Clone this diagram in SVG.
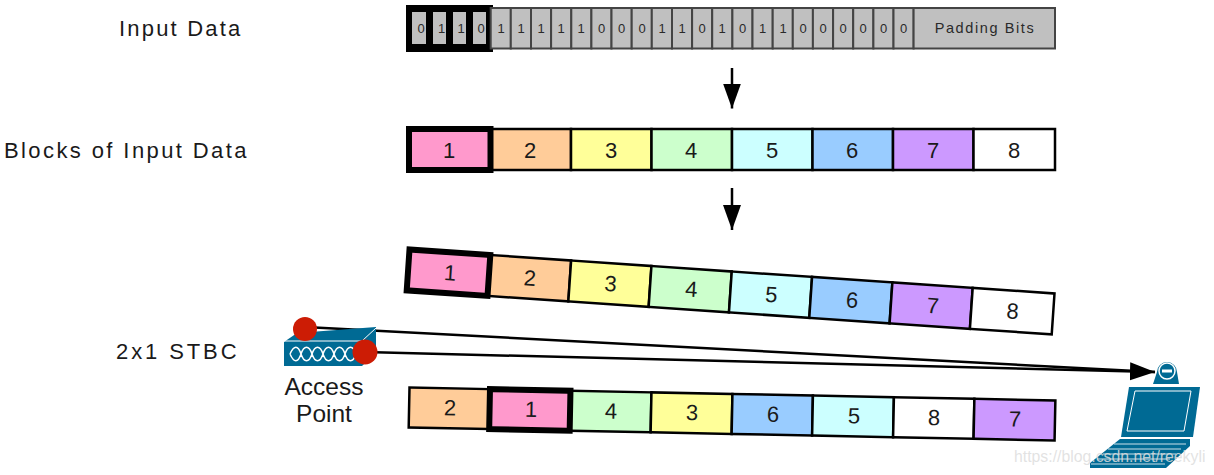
<svg xmlns="http://www.w3.org/2000/svg" width="1214" height="475" viewBox="0 0 1214 475">
<style>
text{font-family:"Liberation Sans",Arial,sans-serif;fill:#1a1a1a}
.lbl{font-size:22px}
.ap{font-size:24.5px;text-anchor:middle}
.n{font-size:22px;text-anchor:middle}
.b{font-size:13px;text-anchor:middle;fill:#2a2a2a}
.bit{fill:#c0c0c0;stroke:#444;stroke-width:2}
.c{stroke:#000;stroke-width:2.5}
.k{fill:none;stroke:#000;stroke-width:6}
.p1{fill:#ff99cc}.p2{fill:#ffcc99}.p3{fill:#ffff99}.p4{fill:#ccffcc}.p5{fill:#ccffff}.p6{fill:#99ccff}.p7{fill:#cc99ff}.p8{fill:#fff}
.dev{fill:#006a94}
.w{fill:none;stroke:#fff}
.conn{fill:none;stroke:#000;stroke-width:2.5}
</style>
<defs>
<marker id="ah" markerUnits="userSpaceOnUse" markerWidth="26" markerHeight="26" refX="25" refY="13" orient="auto"><path d="M0,4 L25,13 L0,22Z" fill="#000"/></marker>
</defs>
<g id="label-input"><text class="lbl" x="119" y="36" style="letter-spacing:2.2px">Input Data</text></g>
<g id="label-blocks"><text class="lbl" x="4" y="158" style="letter-spacing:2.4px">Blocks of Input Data</text></g>
<g id="label-stbc"><text class="lbl" x="116" y="359" style="letter-spacing:2.9px">2x1 STBC</text></g>
<g id="input-data">
<rect x="406" y="5" width="87" height="47" fill="#000"/>
<rect x="412" y="12" width="14" height="32" fill="#c0c0c0"/><rect x="433" y="12" width="13" height="32" fill="#c0c0c0"/><rect x="453" y="12" width="13" height="32" fill="#c0c0c0"/><rect x="473" y="12" width="13" height="32" fill="#c0c0c0"/>
<text class="b" x="421" y="33">0</text><text class="b" x="441.5" y="33">1</text><text class="b" x="461" y="33">1</text><text class="b" x="481" y="33">0</text>
<rect class="bit" x="490.7" y="8" width="20.1" height="40.5"/><rect class="bit" x="510.8" y="8" width="20.2" height="40.5"/><rect class="bit" x="531" y="8" width="20.1" height="40.5"/><rect class="bit" x="551.1" y="8" width="20.2" height="40.5"/><rect class="bit" x="571.3" y="8" width="20.1" height="40.5"/><rect class="bit" x="591.4" y="8" width="20.1" height="40.5"/><rect class="bit" x="611.5" y="8" width="20.2" height="40.5"/><rect class="bit" x="631.7" y="8" width="20.1" height="40.5"/><rect class="bit" x="651.8" y="8" width="20.2" height="40.5"/><rect class="bit" x="672" y="8" width="20.1" height="40.5"/><rect class="bit" x="692.1" y="8" width="20.1" height="40.5"/><rect class="bit" x="712.2" y="8" width="20.2" height="40.5"/><rect class="bit" x="732.4" y="8" width="20.1" height="40.5"/><rect class="bit" x="752.5" y="8" width="20.2" height="40.5"/><rect class="bit" x="772.7" y="8" width="20.1" height="40.5"/><rect class="bit" x="792.8" y="8" width="20.1" height="40.5"/><rect class="bit" x="812.9" y="8" width="20.2" height="40.5"/><rect class="bit" x="833.1" y="8" width="20.1" height="40.5"/><rect class="bit" x="853.2" y="8" width="20.2" height="40.5"/><rect class="bit" x="873.4" y="8" width="20.1" height="40.5"/><rect class="bit" x="893.5" y="8" width="20.1" height="40.5"/><rect class="bit" x="913.6" y="8" width="141.4" height="40.5"/>
<text class="b" x="501" y="33">1</text><text class="b" x="521" y="33">1</text><text class="b" x="541" y="33">1</text><text class="b" x="561" y="33">1</text><text class="b" x="581" y="33">1</text><text class="b" x="601.5" y="33">0</text><text class="b" x="621.5" y="33">0</text><text class="b" x="642" y="33">0</text><text class="b" x="662" y="33">1</text><text class="b" x="682" y="33">1</text><text class="b" x="702" y="33">0</text><text class="b" x="722" y="33">1</text><text class="b" x="742.5" y="33">0</text><text class="b" x="762.5" y="33">1</text><text class="b" x="783" y="33">1</text><text class="b" x="803" y="33">0</text><text class="b" x="823" y="33">0</text><text class="b" x="843" y="33">0</text><text class="b" x="863" y="33">0</text><text class="b" x="883.5" y="33">0</text><text class="b" x="903.5" y="33">0</text>
<text class="b" x="985" y="33" style="font-size:14.5px;letter-spacing:1.6px">Padding Bits</text>
</g>
<g id="blocks">
<rect class="c p2" x="490" y="129" width="81" height="41"/><rect class="c p3" x="571" y="129" width="80.5" height="41"/><rect class="c p4" x="651.5" y="129" width="80.5" height="41"/><rect class="c p5" x="732" y="129" width="80.5" height="41"/><rect class="c p6" x="812.5" y="129" width="80.5" height="41"/><rect class="c p7" x="893" y="129" width="80.5" height="41"/><rect class="c p8" x="973.5" y="129" width="81.5" height="41"/>
<rect class="p1" x="409" y="129" width="81" height="41"/><rect class="k" x="409" y="129" width="81.5" height="41"/>
<text class="n" x="449" y="158">1</text><text class="n" x="530" y="158">2</text><text class="n" x="611" y="158">3</text><text class="n" x="691" y="158">4</text><text class="n" x="772" y="158">5</text><text class="n" x="852" y="158">6</text><text class="n" x="933" y="158">7</text><text class="n" x="1014" y="158">8</text>
</g>
<g id="blocks-tilted" transform="translate(409.5,249.5) rotate(3.9)">
<rect class="c p2" x="81" y="0" width="81" height="41"/><rect class="c p3" x="162" y="0" width="80.5" height="41"/><rect class="c p4" x="242.5" y="0" width="80.5" height="41"/><rect class="c p5" x="323" y="0" width="80.5" height="41"/><rect class="c p6" x="403.5" y="0" width="80.5" height="41"/><rect class="c p7" x="484" y="0" width="80.5" height="41"/><rect class="c p8" x="564.5" y="0" width="82" height="41"/>
<rect class="p1" x="0" y="0" width="81" height="41"/><rect class="k" x="0" y="0" width="81" height="41"/>
<text class="n" x="42" y="28">1</text><text class="n" x="122" y="28">2</text><text class="n" x="203" y="28">3</text><text class="n" x="284" y="28">4</text><text class="n" x="364" y="28">5</text><text class="n" x="445" y="28">6</text><text class="n" x="526" y="28">7</text><text class="n" x="606" y="28">8</text>
</g>
<g id="blocks-stbc" transform="translate(409.5,387.5) rotate(1.15)">
<rect class="c p2" x="0" y="0" width="80" height="40"/><rect class="c p4" x="161" y="0" width="81" height="40"/><rect class="c p3" x="242" y="0" width="81" height="40"/><rect class="c p6" x="323" y="0" width="80.5" height="40"/><rect class="c p5" x="403.5" y="0" width="81" height="40"/><rect class="c p8" x="484.5" y="0" width="80.5" height="40"/><rect class="c p7" x="565" y="0" width="81" height="40"/>
<rect class="p1" x="80" y="0" width="81" height="40"/><rect class="k" x="80.5" y="0" width="80.5" height="40"/>
<text class="n" x="41" y="27">2</text><text class="n" x="122" y="27">1</text><text class="n" x="202" y="27">4</text><text class="n" x="283" y="27">3</text><text class="n" x="364" y="27">6</text><text class="n" x="445" y="27">5</text><text class="n" x="525" y="27">8</text><text class="n" x="606" y="27">7</text>
</g>
<g id="connectors">
<path class="conn" d="M732,68V108.5" marker-end="url(#ah)"/>
<path class="conn" d="M732,188V230" marker-end="url(#ah)"/>
<path class="conn" d="M305,327L1155,372"/>
<path class="conn" d="M365,352L1155,372" marker-end="url(#ah)"/>
</g>
<g id="access-point">
<path class="dev" d="M284,342L297,333L376,327V353L362,366H284Z"/>
<path class="w" stroke-width="1" d="M284,341H362L376,328"/>
<path class="w" stroke-width="1.5" d="M290,354c4,-9 8,-9 11,0s8,9 11,0s8,-9 11,0s8,9 11,0s8,-9 11,0s8,9 11,0M290,354c4,9 8,9 11,0s8,-9 11,0s8,9 11,0s8,-9 11,0s8,9 11,0s8,-9 11,0"/>
<circle cx="305" cy="329" r="12" fill="#cc1c05"/>
<circle cx="365" cy="352" r="12.5" fill="#cc1c05"/>
<text class="ap" x="324" y="395">Access</text>
<text class="ap" x="324" y="422">Point</text>
</g>
<g id="client">
<path class="dev" d="M1153,384L1157,372A10,10 0 0 1 1177,372L1179,384Z"/>
<circle cx="1167" cy="371" r="8" class="w" stroke-width="1.5"/>
<rect x="1162" y="369.5" width="10" height="3" fill="#fff"/>
<path class="dev" d="M1129,387H1200L1193,437H1121Z"/>
<path class="w" stroke-width="1" d="M1135,391H1191L1184,431H1127Z"/>
<path class="dev" d="M1120,439H1190V446L1166,468H1090V463Z"/>
<path class="w" stroke-width=".8" d="M1114,444H1186M1108,449H1181M1103,454H1176M1097,459H1170M1091,464H1165"/>
</g>
<g id="watermark"><text x="1014" y="462" style="font-size:15.8px;fill:#ddd;fill-opacity:.85">https://blog.csdn.net/reekyli</text></g>
</svg>
